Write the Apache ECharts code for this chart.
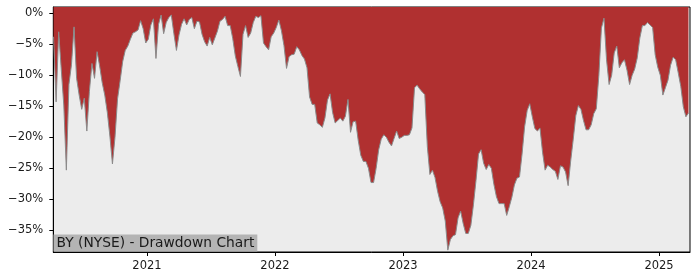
<!DOCTYPE html>
<html>
<head>
<meta charset="utf-8">
<script src="https://cdn.jsdelivr.net/npm/echarts@6/dist/echarts.min.js"></script>
<style>
html,body{margin:0;padding:0;background:#fff;}
#chart{width:700px;height:280px;}
</style>
</head>
<body>
<div id="chart"></div>
<script>
// Sample positions: decimal years, one sample every 0.02 year starting at startYear
const startYear = 2020.27;
const stepYear = 0.02;
// Drawdown values (%)
const drawdown = [
  -3.8, -14.3, -3.0, -9.0, -14.8, -25.3, -11.5, -8.3, -2.2, -10.5,
  -13.2, -15.5, -13.7, -19.0, -12.6, -8.1, -10.5, -6.2, -8.5, -11.2,
  -13.2, -16.0, -19.8, -24.3, -20.0, -13.8, -10.9, -7.8, -6.0, -5.3,
  -4.2, -3.2, -3.0, -2.7, -1.2, -2.5, -4.8, -4.2, -1.9, -0.9,
  -7.3, -1.8, -0.3, -3.3, -1.5, -0.7, -0.3, -3.3, -6.0, -3.5,
  -1.8, -0.9, -1.9, -1.0, -0.7, -2.5, -1.3, -1.4, -3.4, -4.6,
  -5.3, -3.9, -5.1, -4.0, -2.9, -1.3, -1.0, -0.5, -2.0, -2.0,
  -4.1, -6.9, -8.6, -10.2, -3.4, -2.0, -3.9, -3.2, -1.5, -0.5,
  -0.7, -0.4, -4.8, -5.4, -5.9, -3.8, -3.2, -2.3, -1.1, -2.8,
  -5.2, -8.9, -7.0, -6.7, -6.6, -5.4, -5.9, -6.8, -7.4, -8.8,
  -13.5, -14.7, -14.7, -17.7, -18.0, -18.4, -16.9, -14.0, -13.0, -16.0,
  -17.7, -17.3, -16.9, -17.4, -16.6, -13.9, -19.2, -17.5, -17.4, -20.5,
  -22.9, -23.9, -23.9, -25.0, -27.3, -27.3, -25.0, -22.0, -20.3, -19.6,
  -20.0, -20.8, -21.4, -20.2, -19.0, -20.2, -20.0, -19.7, -19.7, -19.6,
  -18.5, -12.0, -11.6, -12.2, -12.7, -13.1, -21.5, -26.0, -25.3, -26.5,
  -28.7, -30.4, -31.4, -33.5, -38.2, -36.5, -35.9, -35.7, -33.0, -31.9,
  -33.9, -35.5, -35.5, -34.2, -30.9, -27.0, -22.7, -22.0, -24.2, -25.2,
  -24.4, -25.0, -27.6, -29.6, -30.7, -30.7, -30.7, -32.6, -31.2, -29.7,
  -27.7, -26.6, -26.4, -22.7, -18.3, -15.7, -14.6, -16.7, -18.6, -19.0,
  -18.5, -22.4, -25.3, -24.5, -24.8, -25.2, -25.5, -26.8, -24.6, -24.8,
  -25.6, -27.8, -23.8, -20.3, -16.5, -14.9, -15.5, -17.3, -18.8, -18.8,
  -18.0, -16.2, -15.4, -10.0, -2.4, -0.8, -7.5, -11.5, -10.0, -6.4,
  -5.3, -8.8, -8.0, -7.5, -9.2, -11.5, -10.0, -9.0, -7.2, -4.0,
  -2.0, -2.0, -1.5, -1.9, -2.3, -6.7, -8.7, -10.0, -13.2, -12.0,
  -10.8, -8.4, -7.1, -7.5, -9.6, -11.8, -15.1, -16.7, -16.1
];
const yearTicks = [2021, 2022, 2023, 2024, 2025];
const pctTicks = [0, -5, -10, -15, -20, -25, -30, -35];
const chartLabel = 'BY (NYSE) - Drawdown Chart';

const seriesData = drawdown.map((v, i) => [+(startYear + i * stepYear).toFixed(2), v]);

const chart = echarts.init(document.getElementById('chart'), null, {renderer: 'canvas'});
const tickFont = {fontFamily: 'DejaVu Sans', fontSize: 11.5, color: '#1a1a1a'};
chart.setOption({
  animation: false,
  backgroundColor: '#ffffff',
  title: {
    text: chartLabel,
    left: 53.5,
    top: 234.5,
    padding: [1, 3, 1, 3],
    backgroundColor: '#b4b4b4',
    textStyle: {fontFamily: 'DejaVu Sans', fontSize: 13.8, fontWeight: 'normal', color: '#1a1a1a', lineHeight: 15}
  },
  grid: {
    left: 53.3, right: 10, top: 7, bottom: 28,
    show: true, backgroundColor: '#ececec', borderColor: '#000', borderWidth: 1
  },
  xAxis: {
    type: 'value',
    min: 2020.268, max: 2025.242,
    splitLine: {show: false},
    axisLine: {show: true, onZero: false, lineStyle: {color: '#000', width: 1}},
    axisTick: {show: true, length: 4, customValues: yearTicks, lineStyle: {color: '#000'}},
    axisLabel: Object.assign({customValues: yearTicks, margin: 8, formatter: v => String(Math.round(v))}, tickFont)
  },
  yAxis: {
    type: 'value',
    min: -38.5, max: 1.0,
    splitLine: {show: false},
    axisLine: {show: true, onZero: false, lineStyle: {color: '#000', width: 1}},
    axisTick: {show: true, length: 4, customValues: pctTicks, lineStyle: {color: '#000'}},
    axisLabel: Object.assign({customValues: pctTicks, margin: 10,
      formatter: v => (v < 0 ? '\u2212' + Math.abs(v) : String(v)) + '%'}, tickFont)
  },
  series: [{
    type: 'line',
    data: seriesData,
    showSymbol: false,
    symbol: 'none',
    sampling: null,
    lineStyle: {color: '#8a8a8a', width: 1},
    areaStyle: {color: '#b03030', opacity: 1, origin: 'end'},
    z: 2
  }]
});
</script>
</body>
</html>
